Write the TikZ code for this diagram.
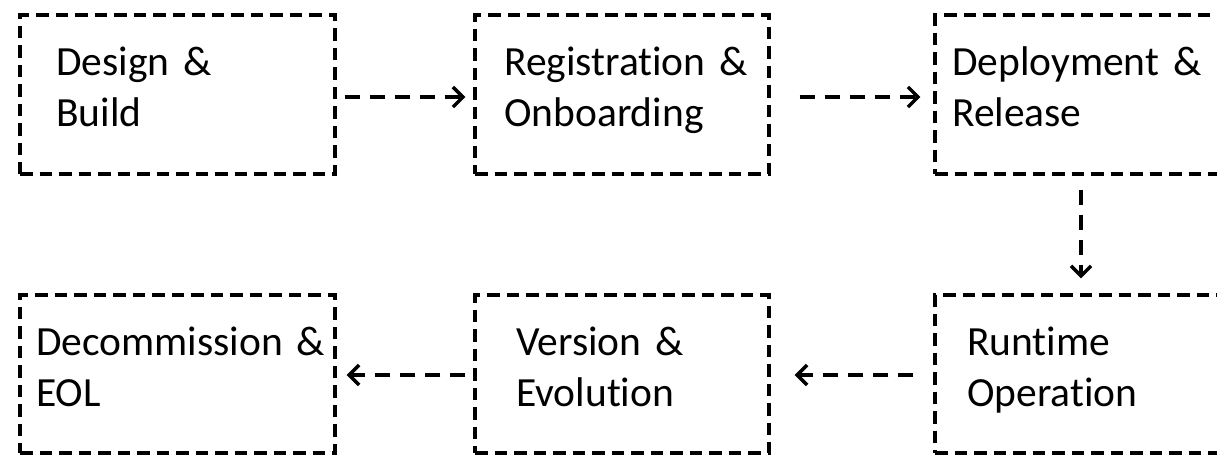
\documentclass[tikz,border=0pt]{standalone}
\usepackage{fontspec}
\setmainfont{Carlito}[Ligatures={NoCommon}]
\usetikzlibrary{arrows.meta}
\begin{document}
\begin{tikzpicture}[x=1pt,y=-1pt,
  stage/.style={draw=black, line width=3.4pt, dash pattern=on 12.5pt off 7pt, inner sep=0pt, minimum height=159pt},
  stagetext/.style={anchor=base west, inner sep=0pt, text width=320pt, align=left, font=\fontsize{41.5}{51.5}\selectfont},
  flow/.style={line width=3.4pt, dash pattern=on 15pt off 10pt, -{Straight Barb[length=10pt,width=20pt]}}]
\clip (0,0) rectangle (1217,455);
\useasboundingbox (0,0) rectangle (1217,455);
% boxes
\node[stage, minimum width=315pt] (A) at (177.5,94.5) {};
\node[stage, minimum width=294pt] (B) at (622,94.5) {};
\node[stage, minimum width=292pt] (C) at (1081,94.5) {};
\node[stage, minimum width=315pt, minimum height=158pt] (D) at (177.5,374) {};
\node[stage, minimum width=294pt, minimum height=158pt] (E) at (622,374) {};
\node[stage, minimum width=292pt, minimum height=158pt] (F) at (1081,374) {};
% texts
\node[stagetext] (tA) at (56,75) {Design \&\\Build};
\node[stagetext] (tB) at (504,75) {Registration \&\\Onboarding};
\node[stagetext] (tC) at (952,75) {Deployment \&\\Release};
\node[stagetext] (tD) at (36,355) {Decommission \&\\EOL};
\node[stagetext] (tE) at (516,355) {Version \&\\Evolution};
\node[stagetext] (tF) at (967,355) {Runtime\\Operation};
% connectors
\draw[flow] ([xshift=8pt,yshift=-2.5pt]A.east) -- ([xshift=-8pt,yshift=-2.5pt]B.west);
\draw[flow] ([xshift=29pt,yshift=-2.5pt]B.east) -- ([xshift=-13pt,yshift=-2.5pt]C.west);
\draw[flow] ([yshift=-14pt]C.south) -- ([yshift=15pt]F.north);
\draw[flow] ([xshift=-20pt,yshift=-1pt]F.west) -- ([xshift=24pt,yshift=-1pt]E.east);
\draw[flow] ([xshift=-8pt,yshift=-1pt]E.west) -- ([xshift=10pt,yshift=-1pt]D.east);
\end{tikzpicture}
\end{document}
